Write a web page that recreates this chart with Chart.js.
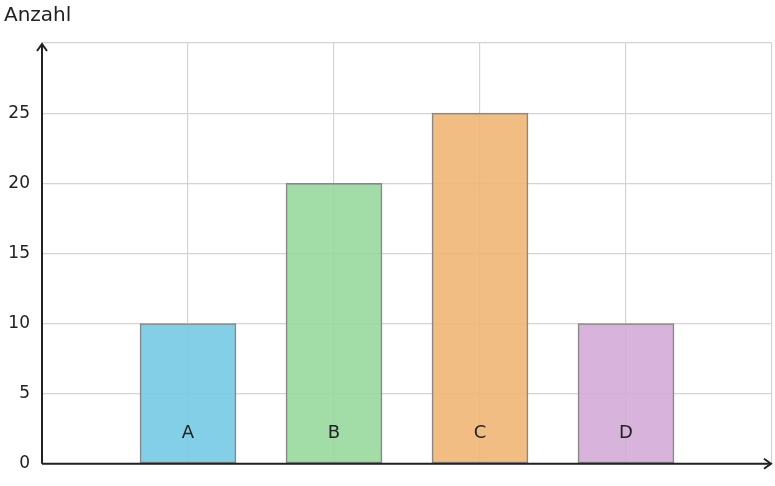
<!DOCTYPE html>
<html><head><meta charset="utf-8">
<script src="https://cdn.jsdelivr.net/npm/chart.js@4"></script>
<style>html,body{margin:0;padding:0;background:#fff}#w{width:775px;height:486px}</style>
</head><body><div id="w"><canvas id="c"></canvas></div>
<script>
const categories = ['', 'A', 'B', 'C', 'D', ''];
const values = [null, 10, 20, 25, 10, null];
const colors = ['rgba(0,0,0,0)', 'rgba(118,202,230,0.9)', 'rgba(152,216,156,0.9)', 'rgba(240,182,118,0.9)', 'rgba(212,172,216,0.9)', 'rgba(0,0,0,0)'];
const yTicks = [0, 5, 10, 15, 20, 25];
const yLabel = 'Anzahl';
const F = 'DejaVu Sans';

const deco = {
  id: 'deco',
  afterDatasetsDraw(ch) {
    const {ctx, chartArea: a, scales: {x, y}} = ch;
    ctx.save();
    ctx.fillStyle = '#222';
    ctx.font = '18px "' + F + '"';
    ctx.textAlign = 'center'; ctx.textBaseline = 'middle';
    categories.forEach((c, i) => { if (c) ctx.fillText(c, x.getPixelForValue(i), y.getPixelForValue(2.2)); });
    ctx.textAlign = 'left'; ctx.textBaseline = 'alphabetic';
    ctx.font = '20px "' + F + '"';
    ctx.fillText(yLabel, 4, 21);
    ctx.strokeStyle = '#222'; ctx.lineWidth = 2;
    ctx.beginPath();
    ctx.moveTo(a.left, a.bottom); ctx.lineTo(a.right - 2, a.bottom);
    ctx.moveTo(a.left, a.bottom); ctx.lineTo(a.left, a.top + 2);
    ctx.stroke();
    ctx.beginPath();
    ctx.moveTo(a.right - 8, a.bottom - 5); ctx.lineTo(a.right - 1, a.bottom); ctx.lineTo(a.right - 8, a.bottom + 5);
    ctx.moveTo(a.left - 5, a.top + 8); ctx.lineTo(a.left, a.top + 1); ctx.lineTo(a.left + 5, a.top + 8);
    ctx.stroke();
    ctx.restore();
  }
};

new Chart(document.getElementById('c'), {
  type: 'bar',
  data: { labels: categories, datasets: [{ data: values, backgroundColor: colors, borderColor: '#888', borderWidth: 1.5, barThickness: 96, borderSkipped: false }] },
  options: {
    responsive: true, maintainAspectRatio: false, animation: false,
    layout: { padding: { top: 43, right: 3, bottom: 5, left: 0 } },
    plugins: { legend: { display: false }, tooltip: { enabled: false } },
    scales: {
      x: { offset: false, grid: { offset: false, color: ctx => (ctx.index === 0 ? 'rgba(0,0,0,0)' : '#d4d4d4'), drawTicks: false, lineWidth: 1.2 }, border: { display: false }, ticks: { display: false } },
      y: { min: 0, max: 30, afterFit: s => { s.width = 42; },
        afterBuildTicks: s => { s.ticks = yTicks.concat([30]).map(v => ({ value: v })); },
        grid: { color: '#d4d4d4', drawTicks: false, lineWidth: 1.2 }, border: { display: false },
        ticks: { padding: 12, color: '#222', font: { family: F, size: 17 }, callback: v => (v === 30 ? '' : v) } }
    }
  },
  plugins: [deco]
});
</script></body></html>
